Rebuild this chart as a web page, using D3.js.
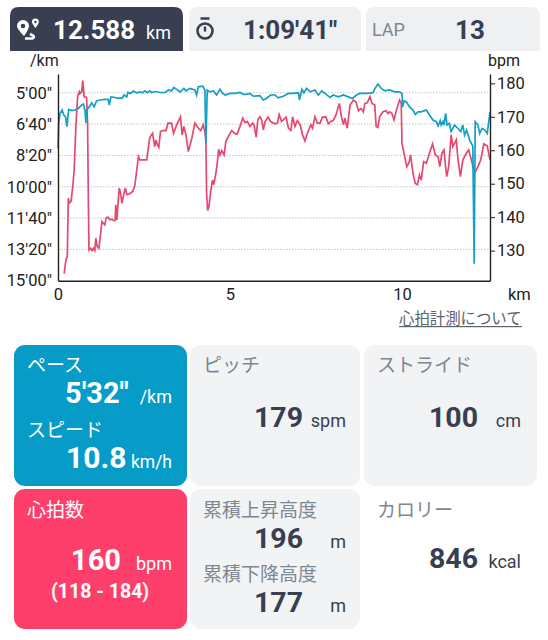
<!DOCTYPE html>
<html>
<head>
<meta charset="utf-8">
<script src="https://cdn.jsdelivr.net/npm/d3@7"></script>
<style>
html, body { margin: 0; padding: 0; background: #fff; }
svg { display: block; }
text { font-family: Roboto, "Noto Sans CJK JP", sans-serif; }
</style>
</head>
<body>
<svg id="chart" width="548" height="640"></svg>
<script>
// pace line, km / seconds per km
var paceKm = [0,.02,.06,.12,.17,.22,.26,.31,.40,.49,.59,.69,.74,.79,.81,.83,.91,.98,1.05,1.12,1.22,1.37,1.46,1.49,1.54,1.66,1.72,1.80,1.86,1.92,2.00,2.03,2.11,2.19,2.29,2.38,2.46,2.53,2.60,2.67,2.72,2.82,2.97,3.11,3.21,3.30,3.37,3.45,3.55,3.66,3.72,3.84,3.98,4.03,4.08,4.21,4.27,4.30,4.34,4.42,4.52,4.61,4.71,4.79,4.86,5.00,5.15,5.29,5.39,5.48,5.58,5.68,5.87,5.97,6.06,6.18,6.31,6.40,6.55,6.70,6.84,6.99,7.02,7.09,7.15,7.23,7.33,7.47,7.57,7.67,7.76,7.91,8.00,8.15,8.30,8.44,8.56,8.68,8.78,8.87,9.01,9.16,9.22,9.30,9.40,9.50,9.64,9.79,9.93,10.00,10.02,10.06,10.13,10.22,10.32,10.39,10.47,10.56,10.71,10.80,10.90,11.00,11.05,11.11,11.14,11.19,11.22,11.27,11.31,11.38,11.43,11.53,11.63,11.71,11.77,11.82,11.88,11.97,12.06,12.10,12.13,12.21,12.26,12.33,12.41,12.48,12.56];
var paceSec = [478,398,366,355,371,377,408,353,357,355,350,339,336,361,396,355,345,332,345,326,323,321,321,339,313,315,318,316,318,307,313,299,302,294,300,297,300,294,300,294,299,296,299,299,291,294,283,289,297,286,294,286,291,307,281,279,291,462,291,297,294,307,289,302,307,302,302,299,305,305,302,311,309,323,318,307,307,316,311,302,302,300,323,289,300,286,297,291,307,294,302,315,307,313,307,313,318,307,302,302,302,299,286,272,286,294,291,297,297,302,345,326,329,345,355,369,361,361,355,371,387,392,406,389,403,392,403,366,403,398,424,403,414,424,403,435,419,451,470,846,392,403,430,414,419,430,361];

// heart rate line, km / bpm
var hrKm = [.18,.23,.27,.30,.33,.38,.43,.47,.52,.57,.62,.64,.69,.72,.76,.83,.86,.88,.90,.95,.99,1.03,1.07,1.10,1.14,1.19,1.24,1.28,1.32,1.36,1.40,1.45,1.51,1.57,1.61,1.66,1.68,1.71,1.74,1.78,1.82,1.86,1.92,1.96,2.00,2.09,2.17,2.23,2.29,2.34,2.38,2.58,2.63,2.67,2.75,2.81,2.85,2.89,2.93,2.98,3.04,3.14,3.20,3.30,3.36,3.45,3.56,3.61,3.66,3.72,3.79,3.89,3.98,4.08,4.15,4.22,4.27,4.30,4.32,4.35,4.39,4.44,4.49,4.53,4.59,4.63,4.67,4.71,4.76,4.83,4.88,4.95,5.05,5.15,5.21,5.29,5.37,5.44,5.51,5.58,5.66,5.70,5.76,5.81,5.87,5.92,5.97,6.02,6.11,6.18,6.31,6.38,6.43,6.50,6.63,6.70,6.77,6.82,6.89,6.96,7.04,7.11,7.18,7.25,7.35,7.40,7.47,7.54,7.62,7.69,7.79,7.86,7.93,8.00,8.08,8.18,8.24,8.30,8.34,8.41,8.49,8.59,8.66,8.74,8.81,8.88,8.92,8.99,9.07,9.13,9.21,9.25,9.30,9.35,9.45,9.54,9.59,9.64,9.71,9.77,9.84,9.93,9.98,10.00,10.08,10.14,10.20,10.25,10.32,10.39,10.45,10.51,10.56,10.63,10.71,10.80,10.89,10.97,11.05,11.10,11.16,11.22,11.30,11.36,11.43,11.48,11.58,11.63,11.70,11.77,11.87,11.94,12.02,12.11,12.21,12.29,12.38,12.48,12.56];
var hrBpm = [123.1,127.3,128.3,145.7,144.2,144.7,149.2,154.1,167.1,176,177.5,177,177.5,180.8,176,175.8,168.1,147.2,130.2,130.7,130,130.7,130,133.7,131.2,130.7,135.2,138.7,138.2,137.7,139.7,140,139.2,139.4,139,139,143.7,139.2,143.2,148.7,147.2,144.2,147.2,148.7,146.7,147,147.7,149.2,154.1,158.1,157.1,157.1,161.1,163.9,165.1,161.1,163.1,161.6,160.9,165.6,165.9,165.9,168.1,168.1,165.1,167.6,170,164.6,167.1,164.6,159.6,163.6,168.1,166.6,165.9,167.6,165.6,162.6,147.2,142,143.2,147.7,151.1,149.7,153.1,156.1,160.3,158.6,159.9,158.6,162.6,164.1,165.9,164.9,164.9,167.1,169.6,168.3,168.6,167.1,168.1,167.6,163.9,169.1,170,169.1,166.1,168.6,169.9,168.6,167.9,168.1,170.7,168.6,169.9,166.6,165.9,170,167.1,168.9,167.6,164.6,162.8,165.1,167.6,166.6,170,168.1,168.1,169.9,170,167.9,168.6,168.9,170.5,174,170,167.6,169.6,166.6,173.5,175,174.5,171.8,172.5,171.5,174,174.2,176,174,173.5,167.1,166.8,170,171.5,171.8,171,171.5,171,169.1,172,175,174,162.1,158.1,155.1,156.1,158.6,153.1,150.1,149.7,152.6,151.1,156.6,156.1,159.1,161.9,158.6,158.1,155.1,159.1,160.1,152.1,155.1,164.6,161.1,163.1,157.1,152.1,157.1,159.1,160.1,157.1,153.1,155.1,157.1,161.9,161.3,157.1];

var paceTicks = [300,400,500,600,700,800,900];
var paceTickLabels = ["5'00\"","6'40\"","8'20\"","10'00\"","11'40\"","13'20\"","15'00\""];
var bpmTicks = [130,140,150,160,170,180];
var kmTicks = [0,5,10];

var DARK = "#383f50", GRAY = "#7d8791", PANEL = "#f2f3f5", TEAL = "#069cc7", RED = "#fe3f6b";

var svg = d3.select("#chart");

function rounded(x, y, w, h, r) {
  return "M" + x + "," + (y + h) + "V" + (y + r) + "Q" + x + "," + y + " " + (x + r) + "," + y +
    "H" + (x + w - r) + "Q" + (x + w) + "," + y + " " + (x + w) + "," + (y + r) + "V" + (y + h) + "Z";
}

function label(x, y, str, size, color, weight, anchor) {
  return svg.append("text").attr("x", x).attr("y", y).text(str)
    .attr("font-size", size).attr("fill", color)
    .attr("font-weight", weight || 400).attr("text-anchor", anchor || "start");
}

// top tabs
svg.append("path").attr("d", rounded(10, 7, 173, 44, 9)).attr("fill", DARK);
svg.append("path").attr("d", rounded(189, 7, 172, 44, 9)).attr("fill", "#eff0f2");
svg.append("path").attr("d", rounded(366, 7, 174, 44, 9)).attr("fill", "#eff0f2");

// route icon: big pin, small pin, road
svg.append("path").attr("fill", "#fff").attr("d", "M17,26a6,6 0 1,1 12,0q0,3 -5,10q-7,-7 -7,-10Z");
svg.append("circle").attr("cx", 23).attr("cy", 26).attr("r", 2.3).attr("fill", DARK);
svg.append("path").attr("fill", "#fff").attr("d", "M32,22a3.4,3.4 0 1,1 6.8,0q0,1.6 -3.4,6q-3.4,-4.4 -3.4,-6Z");
svg.append("circle").attr("cx", 35.4).attr("cy", 22).attr("r", 1.2).attr("fill", DARK);
svg.append("path").attr("fill", "none").attr("stroke", "#fff").attr("stroke-width", 2.6)
  .attr("d", "M25,38.5h7q3,-1 1,-3q-2,-1 -3,-1.5");

// stopwatch icon
svg.append("circle").attr("cx", 205).attr("cy", 31).attr("r", 7.5).attr("fill", "none").attr("stroke", DARK).attr("stroke-width", 2.6);
svg.append("path").attr("stroke", DARK).attr("stroke-width", 2.4).attr("fill", "none").attr("d", "M200.5,18.5h9 M205,26.5v5");

label(53, 39, "12.588", 26, "#fff", 700);
label(171, 39, "km", 18, "#fff", 400, "end");
label(243, 39, "1:09'41\"", 26, DARK, 700);
label(372, 36, "LAP", 18, GRAY);
label(455, 39, "13", 26, DARK, 700);

// chart
var x = d3.scaleLinear().domain([0, 12.56]).range([58, 490]);
var yPace = d3.scaleLinear().domain([240, 900]).range([74, 280.7]);
var yBpm = d3.scaleLinear().domain([121, 182.8]).range([280.7, 74]);

svg.append("g").selectAll("line").data(paceTicks.slice(0, 6)).join("line")
  .attr("x1", x(0)).attr("x2", x(12.56))
  .attr("y1", function(d) { return yPace(d); }).attr("y2", function(d) { return yPace(d); })
  .attr("stroke", "#c4c4c4").attr("stroke-width", 1).attr("stroke-dasharray", "1.5,1.5");

var hrLine = d3.line().x(function(d, i) { return x(hrKm[i]); }).y(function(d) { return yBpm(d); });
var paceLine = d3.line().x(function(d, i) { return x(paceKm[i]); }).y(function(d) { return yPace(d); });

svg.append("path").datum(hrBpm).attr("d", hrLine).attr("fill", "none").attr("stroke", "#e6486f").attr("stroke-width", 1.7);
svg.append("path").datum(paceSec).attr("d", paceLine).attr("fill", "none").attr("stroke", "#159fc6").attr("stroke-width", 1.7);

// axes
var leftAxis = svg.append("g").attr("transform", "translate(58,0)")
  .call(d3.axisLeft(yPace).tickValues(paceTicks).tickSize(0).tickPadding(6)
    .tickFormat(function(d, i) { return paceTickLabels[i]; }));
var rightAxis = svg.append("g").attr("transform", "translate(490,0)")
  .call(d3.axisRight(yBpm).tickValues(bpmTicks).tickSizeInner(5).tickSizeOuter(0).tickPadding(2).tickFormat(d3.format("d")));
var bottomAxis = svg.append("g").attr("transform", "translate(0,280.7)")
  .call(d3.axisBottom(x).tickValues(kmTicks).tickSize(0).tickPadding(8).tickFormat(d3.format("d")));

[leftAxis, rightAxis, bottomAxis].forEach(function(a) {
  a.attr("font-family", null).attr("font-size", null);
  a.selectAll("text").attr("font-size", 16.5).attr("fill", "#222");
  a.select(".domain").attr("stroke", "#222").attr("stroke-width", 1.4);
  a.selectAll(".tick line").attr("stroke", "#222").attr("stroke-width", 1);
});

label(30, 66, "/km", 16, "#222");
label(488, 66, "bpm", 16, "#222");
label(508, 300, "km", 16.5, "#222");
label(399, 324, "心拍計測について", 15.4, "#5b6270");
svg.append("rect").attr("x", 399).attr("y", 326).attr("width", 123).attr("height", 1.2).attr("fill", "#5b6270");

// stat cards
var cards = [
  [14, 345, 173, 141, TEAL], [190, 345, 170, 141, PANEL], [364, 345, 173, 141, PANEL],
  [14, 489, 173, 140, RED], [190, 489, 170, 140, PANEL]
];
svg.append("g").selectAll("rect").data(cards).join("rect")
  .attr("x", function(d) { return d[0]; }).attr("y", function(d) { return d[1]; })
  .attr("width", function(d) { return d[2]; }).attr("height", function(d) { return d[3]; })
  .attr("rx", 11).attr("fill", function(d) { return d[4]; });

label(27, 372, "ペース", 19, "#fff");
label(65, 403, "5'32\"", 29, "#fff", 700);
label(172, 403, "/km", 18, "#fff", 400, "end");
label(27, 437, "スピード", 19, "#fff");
label(66, 468, "10.8", 30, "#fff", 700);
label(172, 468, "km/h", 17.5, "#fff", 400, "end");

label(203, 372, "ピッチ", 19, GRAY);
label(254, 427, "179", 28.5, DARK, 700);
label(346, 427, "spm", 18, DARK, 400, "end");

label(377, 372, "ストライド", 19, GRAY);
label(429, 427, "100", 28.5, DARK, 700);
label(521, 427, "cm", 18, DARK, 400, "end");

label(27, 517, "心拍数", 19, "#fff");
label(71, 570, "160", 29, "#fff", 700);
label(172, 570, "bpm", 18, "#fff", 400, "end");
label(51, 598, "(118 - 184)", 19.5, "#fff", 700);

label(203, 517, "累積上昇高度", 19, GRAY);
label(254, 548, "196", 28.5, DARK, 700);
label(346, 548, "m", 18, DARK, 400, "end");
label(203, 581, "累積下降高度", 19, GRAY);
label(254, 612, "177", 28.5, DARK, 700);
label(346, 612, "m", 18, DARK, 400, "end");

label(377, 517, "カロリー", 19, GRAY);
label(429, 568, "846", 28.5, DARK, 700);
label(521, 568, "kcal", 18, DARK, 400, "end");
</script>
</body>
</html>
